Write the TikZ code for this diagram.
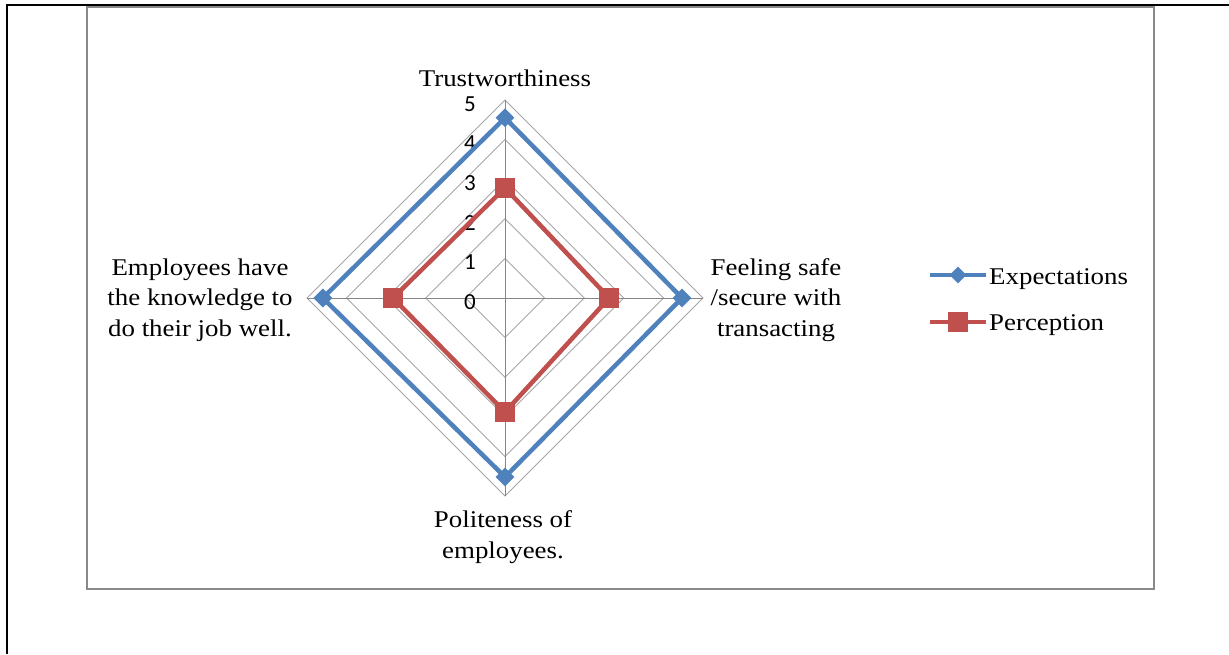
\documentclass[tikz,border=0pt]{standalone}
\usepackage{fontspec}
\setmainfont[FakeStretch=1.12]{Liberation Serif}
\newfontfamily\ticksfont{Carlito}
\usetikzlibrary{shapes.geometric,calc}
\definecolor{expblue}{HTML}{4F81BD}
\definecolor{percred}{HTML}{C0504D}
\definecolor{gridgray}{HTML}{A6A6A6}
\definecolor{axisgray}{HTML}{868686}
\definecolor{framegray}{HTML}{898989}
\tikzset{
  ring/.style={draw=gridgray, line width=0.9pt},
  spoke/.style={draw=axisgray, line width=0.9pt},
  expline/.style={draw=expblue, line width=4.5pt, line join=miter},
  percline/.style={draw=percred, line width=4.5pt, line join=miter},
  expmark/.style={shape=diamond, fill=expblue, inner sep=0pt, minimum size=19pt},
  percmark/.style={shape=rectangle, fill=percred, inner sep=0pt, minimum size=20pt},
  catlabel/.style={font=\fontsize{24}{30.5}\selectfont, align=center, inner sep=0pt},
  ticklabel/.style={font=\ticksfont\fontsize{23}{23}\selectfont, inner sep=0pt},
  legendtext/.style={font=\fontsize{24}{28}\selectfont, anchor=west, inner sep=0pt},
}
\begin{document}
\begin{tikzpicture}[x=1pt, y=-1pt]
\useasboundingbox (0,0) rectangle (1229,654);
% outer page rule and chart frame
\draw[black, line width=2.2pt] (7,654) -- (7,5) -- (1229,5);
\draw[framegray, line width=2.8pt] (87,7) rectangle (1154,589);

\def\cx{505}\def\cy{298}\def\u{39.6}
\coordinate (c) at (\cx,\cy);
% grid rings
\foreach \k in {1,...,5}{
  \draw[ring] ({\cx},{\cy-\u*\k}) -- ({\cx+\u*\k},{\cy}) -- ({\cx},{\cy+\u*\k}) -- ({\cx-\u*\k},{\cy}) -- cycle;
}
% axes
\coordinate (top) at ({\cx},{\cy-5*\u});
\coordinate (right) at ({\cx+5*\u},{\cy});
\coordinate (bottom) at ({\cx},{\cy+5*\u});
\coordinate (left) at ({\cx-5*\u},{\cy});
\draw[spoke] (c) -- (top);
\draw[spoke] (c) -- (right);
\draw[spoke] (c) -- (bottom);
\draw[spoke] (c) -- (left);
% scale labels
\foreach \k in {0,...,5}{
  \node[ticklabel] (t\k) at ({470},{\cy-\u*\k+4}) {\k};
}
% data points
\coordinate (e1) at ({\cx},{\cy-4.55*\u});
\coordinate (e2) at ({\cx+4.47*\u},{\cy});
\coordinate (e3) at ({\cx},{\cy+4.52*\u});
\coordinate (e4) at ({\cx-4.60*\u},{\cy});
\coordinate (p1) at ({\cx},{\cy-2.78*\u});
\coordinate (p2) at ({\cx+2.63*\u},{\cy});
\coordinate (p3) at ({\cx},{\cy+2.88*\u});
\coordinate (p4) at ({\cx-2.83*\u},{\cy});
\draw[expline] (e1) -- (e2) -- (e3) -- (e4) -- cycle;
\draw[percline] (p1) -- (p2) -- (p3) -- (p4) -- cycle;
\foreach \i in {1,...,4}{
  \node[expmark] (em\i) at (e\i) {};
  \node[percmark] (pm\i) at (p\i) {};
}
% category labels
\node[catlabel] (lt) at (505,78) {Trustworthiness};
\node[catlabel] (lr) at (776,300) {Feeling safe\\/secure with\\transacting};
\node[catlabel] (ll) at (200,300) {Employees have\\the knowledge to\\do their job well.};
\node[catlabel] (lb) at (503,537) {Politeness of\\employees.};
% legend
\coordinate (la1) at (930,275);
\coordinate (lb1) at (986,275);
\coordinate (la2) at (930,322);
\coordinate (lb2) at (986,322);
\draw[expblue, line width=4.5pt] (la1) -- (lb1);
\node[expmark, minimum size=17pt] (lgm1) at ($(la1)!0.5!(lb1)$) {};
\draw[percred, line width=4.5pt] (la2) -- (lb2);
\node[percmark] (lgm2) at ($(la2)!0.5!(lb2)$) {};
\node[legendtext] (lgt1) at (989,279) {Expectations};
\node[legendtext] (lgt2) at (989,325) {Perception};
\end{tikzpicture}
\end{document}
